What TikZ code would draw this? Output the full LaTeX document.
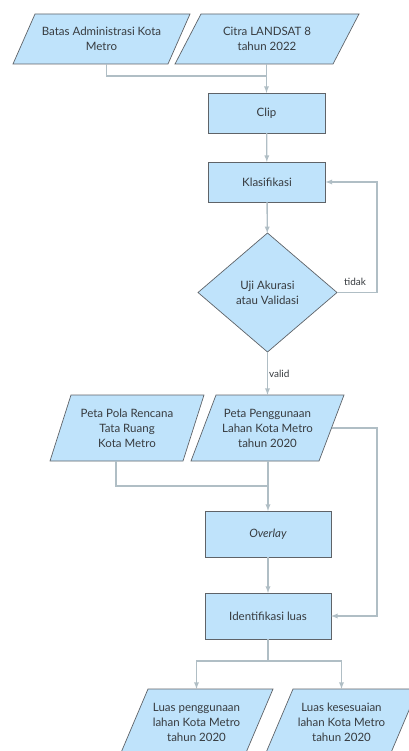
\documentclass[tikz,border=0pt]{standalone}
\usepackage{fontspec}
\setmainfont{Lato}
\usetikzlibrary{shapes.geometric,backgrounds}

\definecolor{boxblue}{RGB}{191,227,251}
\definecolor{boxline}{RGB}{95,99,104}
\definecolor{conn}{RGB}{176,190,197}
\definecolor{txt}{RGB}{55,59,63}

\begin{document}
\begin{tikzpicture}[x=1pt,y=-1pt]
\tikzset{ >=latex, inner sep=0pt, outer sep=0pt,
  proc/.style={draw=boxline, fill=boxblue, line width=0.7pt, text=txt, align=center,
               font=\fontsize{11.5}{15}\selectfont},
  box/.style={proc, rectangle, minimum width=117pt, minimum height=40pt},
  data/.style={proc, draw=none, fill=none, rectangle, minimum height=66pt, minimum width=153pt},
  dec/.style={proc, diamond, minimum width=139pt, minimum height=119pt},
  ln/.style={conn, line width=1.3pt},
  arr/.style={ln, ->},
  lbl/.style={text=txt, font=\fontsize{10}{12}\selectfont},
}
\useasboundingbox (0,0) rectangle (408,751);
\clip (0,0) rectangle (408,751);

% input data
\node [data, minimum height=50pt, minimum width=177pt] (BA) at (101.5,39) {Batas Administrasi Kota\\Metro};
\node [data, minimum height=50pt, minimum width=184pt] (CL) at (267,39) {Citra LANDSAT 8\\tahun 2022};

% processing
\node [box] (CP) at (266.5,113) {Clip};
\node [box] (KL) at (267,182) {Klasifikasi};
\node [dec] (UJ) at (267.5,292.5) {Uji Akurasi\\atau Validasi};

\node [data, minimum width=154pt] (PP) at (127,428) {Peta Pola Rencana\\Tata Ruang\\Kota Metro};
\node [data] (PG) at (267.5,428) {Peta Penggunaan\\Lahan Kota Metro\\tahun 2020};

\node [box, minimum width=126pt, minimum height=46pt] (OV) at (268,534) {\textit{Overlay}};
\node [box, minimum width=126pt, minimum height=46pt] (ID) at (268,616) {Identifikasi luas};

% output
\node [data] (LP) at (196.5,722) {Luas penggunaan\\lahan Kota Metro\\tahun 2020};
\node [data] (LK) at (341.5,722) {Luas kesesuaian\\lahan Kota Metro\\tahun 2020};

% parallelogram outlines behind the data nodes
\begin{scope}[on background layer]
\foreach \n/\s in {BA/22, CL/26, PP/21, PG/25, LP/28, LK/28}
  \filldraw [boxline, fill=boxblue, line width=0.7pt]
    ([xshift=\s]\n.north west) -- (\n.north east) -- ([xshift=-\s]\n.south east) -- (\n.south west) -- cycle;
\end{scope}

\coordinate (J1) at (266.5,76);
\coordinate (J2) at (268,486);
\coordinate (J3) at (268,661);

\draw [ln]  ([xshift=5pt]BA.south) |- (J1);
\draw [arr] (CL.south -| CP.north) -- (CP.north);
\draw [arr] (CP) -- (KL);
\draw [arr] (KL) -- (UJ);
\draw [arr] (UJ.east) -- ++(40,0) node [lbl, pos=0.45, above=7pt] {tidak} |- (KL.east);
\draw [arr] (UJ.south) -- (UJ.south |- PG.north) node [lbl, midway, right=1.5pt] {valid};

\draw [ln]  ([xshift=-11pt]PP.south) |- (J2);
\draw [arr] (PG.south -| OV.north) -- (OV.north);
\draw [arr] (OV) -- (ID);
\draw [arr] ([xshift=-12pt]PG.east) -- ++(45,0) |- (ID.east);

\draw [ln]  (ID.south) -- (J3);
\draw [arr] (J3) -| (LP.north);
\draw [arr] (J3) -| (LK.north);

\end{tikzpicture}
\end{document}
